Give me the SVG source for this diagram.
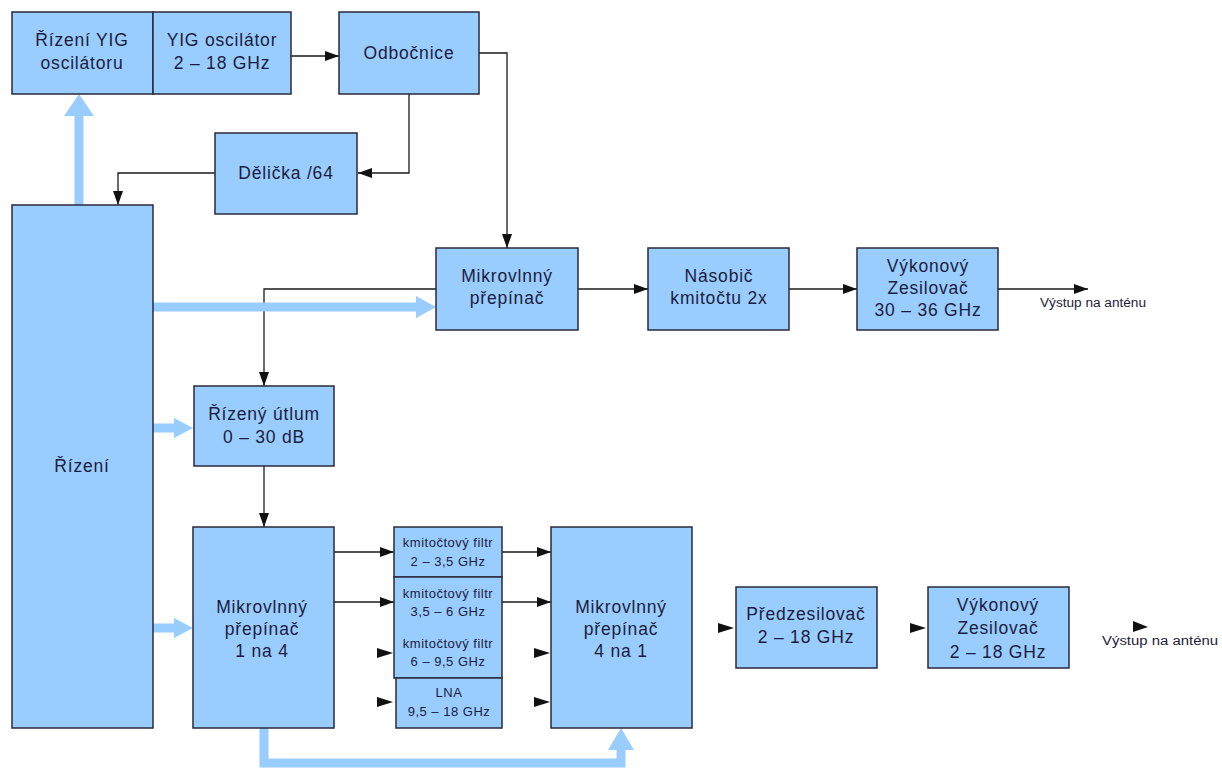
<svg xmlns="http://www.w3.org/2000/svg" width="1222" height="769" viewBox="0 0 1222 769">
<style>
.box{fill:#99ccff;stroke:#2a2a3a;stroke-width:1.5}
.t{font-family:"Liberation Sans",Arial,sans-serif;font-size:17.5px;letter-spacing:0.8px;fill:#1c1c3c;text-anchor:middle}
.s{font-family:"Liberation Sans",Arial,sans-serif;font-size:13px;letter-spacing:0.5px;fill:#1c1c3c;text-anchor:middle}
.o{font-family:"Liberation Sans",Arial,sans-serif;font-size:12px;fill:#1c1c3c}
.ln{fill:none;stroke:#1a1a1a;stroke-width:1.3}
.thick{fill:none;stroke:#99ccff;stroke-width:9}
.bh{fill:#99ccff}
.ah{fill:#111}
</style>
<defs>
<marker id="a" markerWidth="14" markerHeight="10" refX="14" refY="5" orient="auto" markerUnits="userSpaceOnUse">
<path d="M0,0 L14,5 L0,10 Z" fill="#111"/>
</marker>
</defs>
<rect width="1222" height="769" fill="#fff"/>

<g id="connectors">
<path class="ln" d="M291,56 H339" marker-end="url(#a)"/>
<path class="ln" d="M409,94 V173 H358" marker-end="url(#a)"/>
<path class="ln" d="M215,173 H118 V205" marker-end="url(#a)"/>
<path class="ln" d="M479,53 H507 V248" marker-end="url(#a)"/>
<path class="ln" d="M436,289 H264 V386" marker-end="url(#a)"/>
<path class="ln" d="M578,289 H648" marker-end="url(#a)"/>
<path class="ln" d="M789,289 H857" marker-end="url(#a)"/>
<path class="ln" d="M998,289 H1088" marker-end="url(#a)"/>
<path class="ln" d="M264,466 V527" marker-end="url(#a)"/>
<path class="ln" d="M334,552 H394" marker-end="url(#a)"/>
<path class="ln" d="M334,602 H394" marker-end="url(#a)"/>
<path class="ln" d="M502,552 H551" marker-end="url(#a)"/>
<path class="ln" d="M502,602 H551" marker-end="url(#a)"/>
<path class="ah" d="M377,648 L393,653 L377,658 Z"/>
<path class="ah" d="M377,697 L393,702 L377,707 Z"/>
<path class="ah" d="M534,648 L550,653 L534,658 Z"/>
<path class="ah" d="M534,697 L550,702 L534,707 Z"/>
<path class="ah" d="M718,623 L734,628 L718,633 Z"/>
<path class="ah" d="M910,623 L926,628 L910,633 Z"/>
<path class="ah" d="M1133,621 L1148,627 L1133,632 Z"/>
<path class="thick" d="M79,205 V114"/>
<path class="bh" d="M64,116 L79,94 L94,116 Z"/>
<path class="thick" d="M152,307 H418"/>
<path class="bh" d="M416,296 L436,307 L416,318 Z"/>
<path class="thick" d="M152,428 H176"/>
<path class="bh" d="M174,418 L193,428 L174,438 Z"/>
<path class="thick" d="M152,628 H176"/>
<path class="bh" d="M174,618 L193,628 L174,638 Z"/>
<path class="thick" d="M264,728 V763 H621 V748"/>
<path class="bh" d="M608,750 L621,728 L634,750 Z"/>
</g>

<g id="n-rizeni-yig"><rect class="box" x="12" y="12" width="141" height="82"/>
<text class="t" x="82" y="46">Řízení YIG</text><text class="t" x="82" y="69">oscilátoru</text></g>
<g id="n-yig-osc"><rect class="box" x="153" y="12" width="138" height="82"/>
<text class="t" x="222" y="46">YIG oscilátor</text><text class="t" x="222" y="69">2 – 18 GHz</text></g>
<g id="n-odbocnice"><rect class="box" x="339" y="12" width="140" height="82"/>
<text class="t" x="409" y="59">Odbočnice</text></g>
<g id="n-delicka"><rect class="box" x="215" y="133" width="142" height="81"/>
<text class="t" x="286" y="179">Dělička /64</text></g>
<g id="n-rizeni"><rect class="box" x="12" y="205" width="141" height="523"/>
<text class="t" x="82" y="472">Řízení</text></g>
<g id="n-prepinac1"><rect class="box" x="436" y="248" width="142" height="82"/>
<text class="t" x="507" y="282">Mikrovlnný</text><text class="t" x="507" y="304">přepínač</text></g>
<g id="n-nasobic"><rect class="box" x="648" y="248" width="141" height="82"/>
<text class="t" x="719" y="282">Násobič</text><text class="t" x="719" y="304">kmitočtu 2x</text></g>
<g id="n-vykon1"><rect class="box" x="857" y="248" width="141" height="82"/>
<text class="t" x="928" y="272">Výkonový</text><text class="t" x="928" y="294">Zesilovač</text><text class="t" x="928" y="316">30 – 36 GHz</text></g>
<g id="n-out1"><text class="o" x="1040" y="307" textLength="106" lengthAdjust="spacingAndGlyphs">Výstup na anténu</text></g>
<g id="n-utlum"><rect class="box" x="194" y="386" width="140" height="80"/>
<text class="t" x="264" y="420">Řízený útlum</text><text class="t" x="264" y="443">0 – 30 dB</text></g>
<g id="n-prepinac14"><rect class="box" x="193" y="527" width="141" height="201"/>
<text class="t" x="262" y="613">Mikrovlnný</text><text class="t" x="262" y="635">přepínač</text><text class="t" x="262" y="657">1 na 4</text></g>
<g id="n-filtr1"><rect class="box" x="394" y="527" width="108" height="50"/>
<text class="s" x="448" y="547">kmitočtový filtr</text><text class="s" x="448" y="566">2 – 3,5 GHz</text></g>
<g id="n-filtr23"><rect class="box" x="394" y="577" width="108" height="101"/>
<text class="s" x="448" y="598">kmitočtový filtr</text><text class="s" x="448" y="616">3,5 – 6 GHz</text>
<text class="s" x="448" y="648">kmitočtový filtr</text><text class="s" x="448" y="666">6 – 9,5 GHz</text></g>
<g id="n-lna"><rect class="box" x="396" y="678" width="106" height="50"/>
<text class="s" x="449" y="697">LNA</text><text class="s" x="449" y="716">9,5 – 18 GHz</text></g>
<g id="n-prepinac41"><rect class="box" x="551" y="527" width="141" height="201"/>
<text class="t" x="621" y="613">Mikrovlnný</text><text class="t" x="621" y="635">přepínač</text><text class="t" x="621" y="657">4 na 1</text></g>
<g id="n-predzes"><rect class="box" x="736" y="587" width="141" height="81"/>
<text class="t" x="806" y="620">Předzesilovač</text><text class="t" x="806" y="643">2 – 18 GHz</text></g>
<g id="n-vykon2"><rect class="box" x="928" y="587" width="141" height="81"/>
<text class="t" x="998" y="611">Výkonový</text><text class="t" x="998" y="634">Zesilovač</text><text class="t" x="998" y="658">2 – 18 GHz</text></g>
<g id="n-out2"><text class="o" x="1102" y="645" textLength="116" lengthAdjust="spacingAndGlyphs">Výstup na anténu</text></g>
</svg>
